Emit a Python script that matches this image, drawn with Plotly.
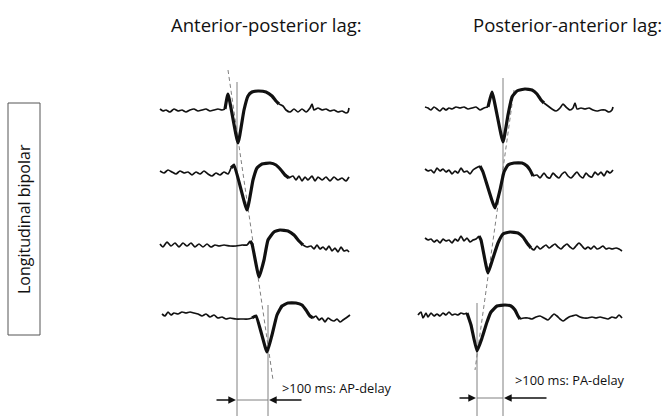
import plotly.graph_objects as go

# ---------------- data (diagram in pixel-like units) ----------------
# Left panel (anterior-posterior lag): each row = pre-baseline, complex, post-baseline
L1_pre_x = [160,163,166,170,174,178,182,186,190,194,198,202,206,210,214,218,222,225]
L1_pre_y = [109,111,110,112,109,111,110,112,110,109,111,110,109,111,110,109,110,109]
L1_cx = [225,228,238,244,248,252,258,266,272,276,279]
L1_cy = [109,94,143,110,96,92,91,92,96,101,104]
L1_post_x = [279,283,286,290,294,298,302,306,310,312,314,318,322,326,330,334,338,342,346,348,349]
L1_post_y = [104,106,110,112,109,112,109,112,108,104,110,108,110,109,111,110,112,111,113,112,108]

L2_pre_x = [160,164,168,172,176,180,184,188,192,196,200,204,208,212,216,220,224,228,231]
L2_pre_y = [171,173,170,172,174,171,173,172,175,172,174,171,174,176,173,175,172,174,168]
L2_cx = [231,234,247,253,257,262,270,276,281,285,289]
L2_cy = [168,165,210,180,168,164,163,165,170,175,178]
L2_post_x = [289,293,296,299,302,305,308,312,315,318,322,326,330,334,338,342,346,349]
L2_post_y = [178,176,180,176,181,177,180,176,181,177,180,177,181,177,180,178,181,177]

L3_pre_x = [160,163,167,171,175,179,183,187,191,195,199,203,207,211,215,219,224,230,236,242,247,250]
L3_pre_y = [244,247,242,246,243,247,243,246,243,247,244,247,244,247,245,246,245,246,246,245,245,241]
L3_cx = [250,252,259,264,268,274,280,288,294,299,303]
L3_cy = [241,244,277,260,240,232,230,231,235,241,245]
L3_post_x = [303,307,311,314,317,320,323,326,329,332,335,338,341,344,347,349]
L3_post_y = [245,247,246,249,245,249,247,250,246,251,248,252,247,251,250,252]

L4_pre_x = [162,165,168,171,174,178,182,186,190,194,198,202,206,210,214,218,222,226,230,236,242,248,252]
L4_pre_y = [314,316,312,315,313,314,312,313,312,313,314,316,314,317,315,318,317,319,318,319,319,319,318]
L4_cx = [252,256,267,272,277,282,288,296,302,306,310,313]
L4_cy = [318,316,352,335,315,306,303,303,305,310,316,318]
L4_post_x = [313,316,319,322,325,328,331,334,337,340,343,346,350]
L4_post_y = [318,316,320,318,322,318,320,321,319,322,320,318,315]

# Right panel (posterior-anterior lag)
R1_pre_x = [425,428,431,434,437,440,443,446,449,452,456,460,464,468,472,476,480,484,488]
R1_pre_y = [107,108,110,107,109,111,108,110,108,109,107,108,107,109,108,107,110,108,107]
R1_cx = [488,492,503,508,512,517,525,532,537,541,544]
R1_cy = [107,92,142,115,97,91,89,90,94,100,103]
R1_post_x = [544,548,552,556,560,563,566,570,573,575,577,581,585,589,593,597,601,605,609,612,613]
R1_post_y = [103,106,109,111,108,104,107,110,108,103,109,108,109,108,110,111,110,110,112,110,107]

R2_pre_x = [425,428,431,434,437,440,443,446,449,452,455,458,461,464,467,470,473,476,480]
R2_pre_y = [169,171,170,173,168,171,169,172,170,174,171,173,168,172,171,174,170,168,166]
R2_cx = [480,483,495,500,504,508,514,522,527,530,533]
R2_cy = [166,172,208,190,172,165,163,163,166,170,176]
R2_post_x = [533,537,540,544,547,550,553,556,559,562,565,568,571,574,577,580,583,586,589,592,595,598,601,604,607,610,613]
R2_post_y = [176,175,178,173,177,178,173,176,178,174,172,176,178,175,172,176,178,173,176,177,172,175,172,176,171,173,170]

R3_pre_x = [425,428,431,434,437,440,443,446,449,452,455,458,461,464,467,470,473,476,479]
R3_pre_y = [238,240,239,242,240,243,239,241,240,243,239,241,236,241,238,242,240,239,236]
R3_cx = [479,481,488,493,498,503,510,518,523,527,531]
R3_cy = [236,240,273,258,243,234,232,233,237,243,248]
R3_post_x = [531,534,537,540,543,546,549,552,555,558,561,564,567,570,573,576,579,582,585,588,591,594,597,600,603,606,609,612,616,619,622]
R3_post_y = [248,250,246,249,247,245,248,246,244,247,249,246,244,247,249,246,243,246,249,247,249,246,249,248,246,249,248,249,248,249,251]

R4_pre_x = [418,421,423,426,428,431,434,437,440,443,446,449,452,455,458,461,464,467]
R4_pre_y = [315,312,318,313,317,313,316,314,316,313,315,312,315,314,315,313,314,313]
R4_cx = [467,471,477,482,487,491,497,505,511,515,518,520]
R4_cy = [313,325,351,338,322,312,306,305,306,310,316,319]
R4_post_x = [520,524,528,532,536,540,544,548,551,554,557,560,563,566,569,572,576,580,584,588,592,596,600,604,608,612,616,619,622]
R4_post_y = [319,318,318,319,317,316,318,320,317,314,316,319,321,319,317,316,315,317,318,318,317,318,317,318,319,317,318,315,318]

# Reference lines
AP_vline_x = [237, 268]
AP_vline_top = [82, 305]
PA_vline_x = [503, 477]
PA_vline_top = [78, 303]
vline_bottom = 416
AP_dash_x = [228, 273]
AP_dash_y = [70, 380]
PA_dash_x = [514, 475]
PA_dash_y = [90, 370]

titles = ["Anterior-posterior lag:", "Posterior-anterior lag:"]
delay_labels = [">100 ms: AP-delay", ">100 ms: PA-delay"]
side_label = "Longitudinal bipolar"

# ---------------- figure ----------------
fig = go.Figure()
BLACK = "#111111"
GRAY = "#808080"

rows = [
    (L1_pre_x, L1_pre_y, L1_cx, L1_cy, L1_post_x, L1_post_y),
    (L2_pre_x, L2_pre_y, L2_cx, L2_cy, L2_post_x, L2_post_y),
    (L3_pre_x, L3_pre_y, L3_cx, L3_cy, L3_post_x, L3_post_y),
    (L4_pre_x, L4_pre_y, L4_cx, L4_cy, L4_post_x, L4_post_y),
    (R1_pre_x, R1_pre_y, R1_cx, R1_cy, R1_post_x, R1_post_y),
    (R2_pre_x, R2_pre_y, R2_cx, R2_cy, R2_post_x, R2_post_y),
    (R3_pre_x, R3_pre_y, R3_cx, R3_cy, R3_post_x, R3_post_y),
    (R4_pre_x, R4_pre_y, R4_cx, R4_cy, R4_post_x, R4_post_y),
]

# vertical reference lines
for xs, tops in ((AP_vline_x, AP_vline_top), (PA_vline_x, PA_vline_top)):
    for x, t in zip(xs, tops):
        fig.add_trace(go.Scatter(x=[x, x], y=[t, vline_bottom], mode="lines",
                                 line=dict(color=GRAY, width=1), hoverinfo="skip"))
# horizontal connector between vertical lines
fig.add_trace(go.Scatter(x=AP_vline_x, y=[400, 400], mode="lines",
                         line=dict(color=GRAY, width=1), hoverinfo="skip"))
fig.add_trace(go.Scatter(x=PA_vline_x, y=[398, 398], mode="lines",
                         line=dict(color=GRAY, width=1), hoverinfo="skip"))
# dashed propagation lines
fig.add_trace(go.Scatter(x=AP_dash_x, y=AP_dash_y, mode="lines",
                         line=dict(color=GRAY, width=1, dash="4px,3px"), hoverinfo="skip"))
fig.add_trace(go.Scatter(x=PA_dash_x, y=PA_dash_y, mode="lines",
                         line=dict(color=GRAY, width=1, dash="4px,3px"), hoverinfo="skip"))

for px, py, cx, cy, qx, qy in rows:
    fig.add_trace(go.Scatter(x=px, y=py, mode="lines",
                             line=dict(color=BLACK, width=1.7, shape="spline", smoothing=0.6),
                             hoverinfo="skip"))
    fig.add_trace(go.Scatter(x=qx, y=qy, mode="lines",
                             line=dict(color=BLACK, width=1.7, shape="spline", smoothing=0.6),
                             hoverinfo="skip"))
    fig.add_trace(go.Scatter(x=cx, y=cy, mode="lines",
                             line=dict(color=BLACK, width=3.2, shape="spline", smoothing=0.4),
                             hoverinfo="skip"))

# side box
fig.add_trace(go.Scatter(x=[8, 40, 40, 8, 8], y=[103, 103, 335, 335, 103], mode="lines",
                         line=dict(color="#555555", width=1), hoverinfo="skip"))

FONT = "Open Sans, Noto Sans, sans-serif"
ann = []
ann.append(dict(x=266, y=24, text=titles[0], showarrow=False,
                font=dict(family=FONT, size=18.5, color="#111"), xanchor="center", yanchor="middle"))
ann.append(dict(x=567, y=24, text=titles[1], showarrow=False,
                font=dict(family=FONT, size=18.5, color="#111"), xanchor="center", yanchor="middle"))
ann.append(dict(x=280, y=388, text=delay_labels[0], showarrow=False,
                font=dict(family=FONT, size=12.8, color="#111"), xanchor="left", yanchor="middle"))
ann.append(dict(x=513, y=380, text=delay_labels[1], showarrow=False,
                font=dict(family=FONT, size=12.8, color="#111"), xanchor="left", yanchor="middle"))
ann.append(dict(x=24, y=219, text=side_label, showarrow=False, textangle=-90,
                font=dict(family=FONT, size=16, color="#111"), xanchor="center", yanchor="middle"))

# arrows: (head_x, head_y, tail_x, tail_y)
arrows = [(236, 400, 215, 400), (269, 400, 303, 400), (476, 398, 458, 398), (504, 398, 548, 398)]
for hx, hy, tx, ty in arrows:
    ann.append(dict(x=hx, y=hy, ax=tx, ay=ty, xref="x", yref="y", axref="x", ayref="y",
                    text="", showarrow=True, arrowhead=2, arrowsize=1.1, arrowwidth=1.4,
                    arrowcolor=BLACK))

fig.update_layout(
    width=664, height=416, margin=dict(l=0, r=0, t=0, b=0),
    paper_bgcolor="white", plot_bgcolor="white", showlegend=False,
    xaxis=dict(range=[0, 664], visible=False, fixedrange=True),
    yaxis=dict(range=[416, 0], visible=False, fixedrange=True),
    annotations=ann,
)

fig.write_html(
    "out.html",
    config={"displayModeBar": False},
    post_script="document.body.style.margin='0';document.body.style.overflow='hidden';",
)
